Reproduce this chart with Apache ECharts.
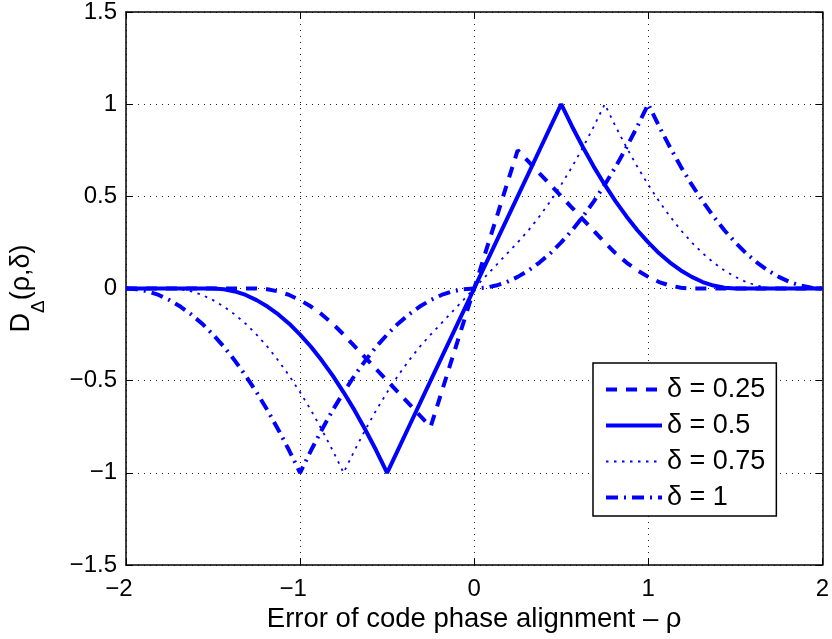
<!DOCTYPE html>
<html>
<head>
<meta charset="utf-8">
<script src="https://cdn.jsdelivr.net/npm/echarts@6/dist/echarts.min.js"></script>
<style>
  html, body { margin: 0; padding: 0; background: #fff; }
  #main { width: 832px; height: 639px; }
</style>
</head>
<body>
<div id="main"></div>
<script>
// code phase error rho, step 1/16
var rho = [-2, -1.9375, -1.875, -1.8125, -1.75, -1.6875, -1.625, -1.5625, -1.5, -1.4375, -1.375, -1.3125,
  -1.25, -1.1875, -1.125, -1.0625, -1, -0.9375, -0.875, -0.8125, -0.75, -0.6875, -0.625, -0.5625,
  -0.5, -0.4375, -0.375, -0.3125, -0.25, -0.1875, -0.125, -0.0625,
  0, 0.0625, 0.125, 0.1875, 0.25, 0.3125, 0.375, 0.4375, 0.5, 0.5625, 0.625, 0.6875,
  0.75, 0.8125, 0.875, 0.9375, 1, 1.0625, 1.125, 1.1875, 1.25, 1.3125, 1.375, 1.4375,
  1.5, 1.5625, 1.625, 1.6875, 1.75, 1.8125, 1.875, 1.9375, 2];

// D(rho, delta)
var d025 = [0, 0, 0, 0, 0, 0, 0, 0, 0, 0, 0, 0, 0, -0.004, -0.016, -0.035, -0.063, -0.098, -0.141, -0.191,
  -0.25, -0.313, -0.375, -0.438, -0.5, -0.563, -0.625, -0.688, -0.75, -0.563, -0.375, -0.188,
  0, 0.188, 0.375, 0.563, 0.75, 0.688, 0.625, 0.563, 0.5, 0.438, 0.375, 0.313, 0.25, 0.191, 0.141, 0.098,
  0.063, 0.035, 0.016, 0.004, 0, 0, 0, 0, 0, 0, 0, 0, 0, 0, 0, 0, 0];
var d05 = [0, 0, 0, 0, 0, 0, 0, 0, 0, -0.004, -0.016, -0.035, -0.063, -0.098, -0.141, -0.191,
  -0.25, -0.316, -0.391, -0.473, -0.563, -0.66, -0.766, -0.879, -1, -0.875, -0.75, -0.625, -0.5, -0.375, -0.25, -0.125,
  0, 0.125, 0.25, 0.375, 0.5, 0.625, 0.75, 0.875, 1, 0.879, 0.766, 0.66, 0.563, 0.473, 0.391, 0.316,
  0.25, 0.191, 0.141, 0.098, 0.063, 0.035, 0.016, 0.004, 0, 0, 0, 0, 0, 0, 0, 0, 0];
var d075 = [0, 0, 0, 0, 0, -0.004, -0.016, -0.035, -0.063, -0.098, -0.141, -0.191, -0.25, -0.316, -0.391, -0.473,
  -0.563, -0.66, -0.766, -0.879, -1, -0.879, -0.766, -0.66, -0.563, -0.473, -0.391, -0.316, -0.25, -0.188, -0.125, -0.063,
  0, 0.063, 0.125, 0.188, 0.25, 0.316, 0.391, 0.473, 0.563, 0.66, 0.766, 0.879, 1, 0.879, 0.766, 0.66,
  0.563, 0.473, 0.391, 0.316, 0.25, 0.191, 0.141, 0.098, 0.063, 0.035, 0.016, 0.004, 0, 0, 0, 0, 0];
var d1 = [0, -0.004, -0.016, -0.035, -0.063, -0.098, -0.141, -0.191, -0.25, -0.316, -0.391, -0.473, -0.563, -0.66, -0.766, -0.879,
  -1, -0.879, -0.766, -0.66, -0.563, -0.473, -0.391, -0.316, -0.25, -0.191, -0.141, -0.098, -0.063, -0.035, -0.016, -0.004,
  0, 0.004, 0.016, 0.035, 0.063, 0.098, 0.141, 0.191, 0.25, 0.316, 0.391, 0.473, 0.563, 0.66, 0.766, 0.879,
  1, 0.879, 0.766, 0.66, 0.563, 0.473, 0.391, 0.316, 0.25, 0.191, 0.141, 0.098, 0.063, 0.035, 0.016, 0.004, 0];

var names = ['\u03b4 = 0.25', '\u03b4 = 0.5', '\u03b4 = 0.75', '\u03b4 = 1'];

var font = 'Liberation Sans, Arial, Helvetica, sans-serif';

function pairs(ys) {
  return rho.map(function (x, i) { return [x, ys[i]]; });
}
function minus(v) {
  return String(v).replace('-', '\u2212');
}
// matlab keeps the digits over the tick, the minus sign hangs to the left
function xLabel(v) {
  return v < 0 ? '{neg|' + minus(v) + '}' : String(v);
}

var chart = echarts.init(document.getElementById('main'), null, { renderer: 'canvas' });

var tickStyle = { show: true, inside: true, length: 7, lineStyle: { color: '#000', width: 1 } };
var lineAxis = { show: true, onZero: false, lineStyle: { color: '#000', width: 1.5 } };

var option = {
  backgroundColor: '#fff',
  animation: false,
  textStyle: { fontFamily: font },
  grid: { left: 120, right: 9.5, top: 11, bottom: 74, containLabel: false },
  legend: {
    orient: 'vertical',
    left: 593,
    top: 363,
    data: names,
    itemWidth: 56,
    itemHeight: 14,
    itemGap: 9,
    padding: [13, 11, 5, 11],
    borderColor: '#000',
    borderWidth: 1.5,
    backgroundColor: '#fff',
    itemStyle: { color: 'transparent', borderColor: 'transparent', borderWidth: 0 },
    lineStyle: { width: 'inherit' },
    textStyle: { fontSize: 27, color: '#000', fontFamily: font }
  },
  xAxis: [{
    type: 'value',
    min: -2, max: 2, interval: 1,
    position: 'bottom',
    axisLine: lineAxis,
    axisTick: tickStyle,
    axisLabel: {
      fontSize: 24, color: '#000', margin: 12, formatter: xLabel,
      rich: { neg: { fontSize: 24, color: '#000', fontFamily: font, padding: [0, 14, 0, 0] } }
    },
    splitLine: { show: true, lineStyle: { color: '#222', width: 1, type: [1, 5] } },
    name: 'Error of code phase alignment \u2013 \u03c1',
    nameLocation: 'middle',
    nameGap: 37,
    nameTextStyle: { fontSize: 27.5, color: '#000' }
  }, {
    type: 'value',
    min: -2, max: 2, interval: 1,
    position: 'top',
    axisLine: lineAxis,
    axisTick: tickStyle,
    axisLabel: { show: false },
    splitLine: { show: false }
  }],
  yAxis: [{
    type: 'value',
    min: -1.5, max: 1.5, interval: 0.5,
    position: 'left',
    axisLine: lineAxis,
    axisTick: tickStyle,
    axisLabel: { fontSize: 24, color: '#000', margin: 9, formatter: minus },
    splitLine: { show: true, lineStyle: { color: '#222', width: 1, type: [1, 5] } },
    name: '{n|D}{s|\u0394}{n|(\u03c1,\u03b4)}',
    nameLocation: 'middle',
    nameGap: 78,
    nameTextStyle: {
      color: '#000',
      rich: {
        n: { fontSize: 27, color: '#000', fontFamily: font, lineHeight: 40, verticalAlign: 'top' },
        s: { fontSize: 19, color: '#000', fontFamily: font, lineHeight: 40, verticalAlign: 'bottom' }
      }
    }
  }, {
    type: 'value',
    min: -1.5, max: 1.5, interval: 0.5,
    position: 'right',
    axisLine: lineAxis,
    axisTick: tickStyle,
    axisLabel: { show: false },
    splitLine: { show: false }
  }],
  series: [{
    name: names[0], type: 'line', data: pairs(d025),
    showSymbol: false, symbol: 'none',
    lineStyle: { color: '#0000ff', width: 4, type: [11, 9] },
    itemStyle: { color: '#0000ff' }
  }, {
    name: names[1], type: 'line', data: pairs(d05),
    showSymbol: false, symbol: 'none',
    lineStyle: { color: '#0000ff', width: 4, type: 'solid' },
    itemStyle: { color: '#0000ff' }
  }, {
    name: names[2], type: 'line', data: pairs(d075),
    showSymbol: false, symbol: 'none',
    lineStyle: { color: '#0000ff', width: 1.8, type: [2.5, 5.5] },
    itemStyle: { color: '#0000ff' }
  }, {
    name: names[3], type: 'line', data: pairs(d1),
    showSymbol: false, symbol: 'none',
    lineStyle: { color: '#0000ff', width: 4, type: [12, 6, 2, 6] },
    itemStyle: { color: '#0000ff' }
  }]
};

chart.setOption(option);
</script>
</body>
</html>
